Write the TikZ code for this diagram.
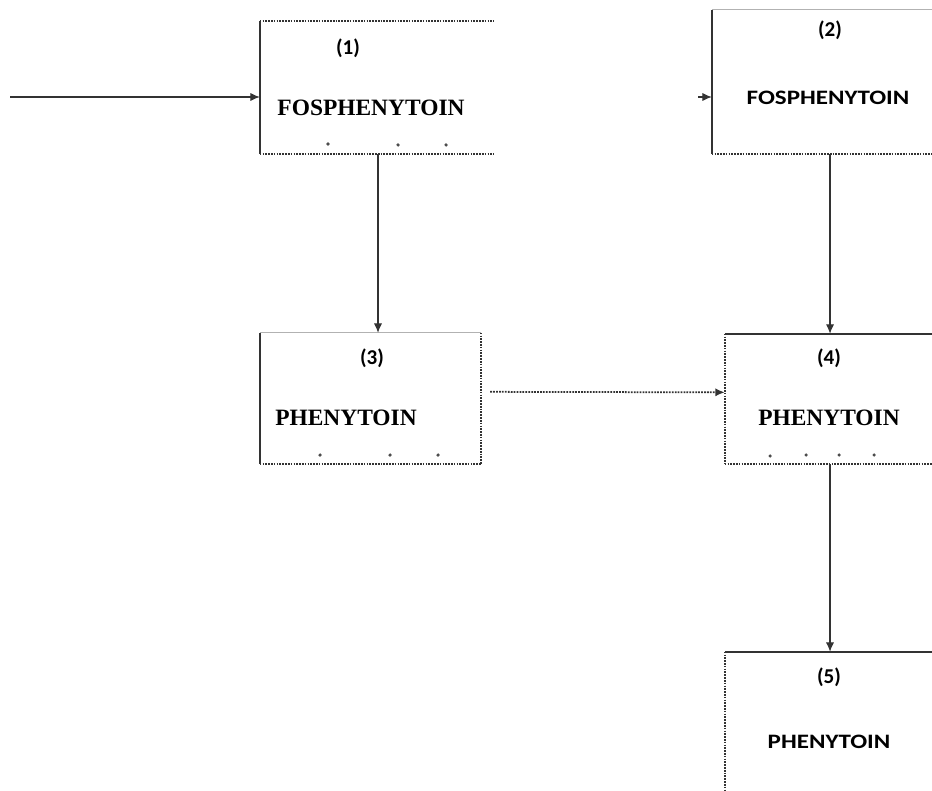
\documentclass[tikz,border=0pt]{standalone}
\usepackage{xcolor}
\usepackage{fontspec}
\setmainfont{Liberation Serif}
\newfontfamily\calibfont{Carlito}
\newfontfamily\widecalibfont[FakeStretch=1.22]{Carlito}
\usetikzlibrary{positioning,arrows.meta}
\tikzset{c-box/.style={rectangle, inner sep=0pt, minimum width=7cm, minimum height=4cm},
num-label/.style={font=\calibfont\fontsize{18}{20}\selectfont\bfseries},
serif-name/.style={font=\fontsize{20}{22}\selectfont\bfseries},
sans-name/.style={font=\widecalibfont\fontsize{17.5}{19}\selectfont\bfseries},
edge-solid/.style={line width=1.5pt, draw=c_edge},
edge-light/.style={line width=0.8pt, draw=c_light},
edge-dotted/.style={line width=1.4pt, densely dotted, draw=c_edge},
arrow/.style={line width=1pt, draw=c_edge, -{Latex[length=8pt,width=7pt]}},
dot-arrow/.style={line width=1.5pt, densely dotted, draw=c_edge, -{Latex[length=8pt,width=7pt]}},
speck/.style={circle, fill=c_dots, inner sep=0pt, minimum size=3pt}}
\definecolor{c_edge}{rgb}{0.2, 0.2, 0.2}
\definecolor{c_light}{rgb}{0.7, 0.7, 0.7}
\definecolor{c_dots}{rgb}{0.3, 0.3, 0.3}

\begin{document}
\begin{tikzpicture}[x=0.03cm, y=-0.03cm]
\useasboundingbox (0,0) rectangle (932,791);
% boxes
\node (b1) [c-box, minimum width=7.02cm, minimum height=3.99cm] at (377,87.5) {};
\node (b2) [c-box, minimum width=7.14cm, minimum height=4.32cm] at (831,82) {};
\node (b3) [c-box, minimum width=6.63cm, minimum height=3.93cm] at (370.5,398.5) {};
\node (b4) [c-box, minimum width=6.3cm, minimum height=3.9cm] at (830,399) {};
\node (b5) [c-box, minimum width=6.3cm, minimum height=4.5cm] at (830,727) {};
\draw [edge-solid] (b1.north west) -- (b1.south west);
\draw [edge-dotted] (b1.north west) -- (b1.north east);
\draw [edge-dotted] (b1.south west) -- (b1.south east);
\draw [edge-solid] (b2.north west) -- (b2.south west);
\draw [edge-light] (b2.north west) -- (b2.north east);
\draw [edge-dotted] (b2.south west) -- (b2.south east);
\draw [edge-solid] (b3.north west) -- (b3.south west);
\draw [edge-light] (b3.north west) -- (b3.north east);
\draw [edge-dotted] (b3.north east) -- (b3.south east);
\draw [edge-dotted] (b3.south west) -- (b3.south east);
\draw [edge-solid] (b4.north west) -- (b4.north east);
\draw [edge-dotted] (b4.north west) -- (b4.south west);
\draw [edge-dotted] (b4.south west) -- (b4.south east);
\draw [edge-solid] (b5.north west) -- (b5.north east);
\draw [edge-dotted] (b5.north west) -- (b5.south west);
% texts
\node (n1) [num-label] at (348,48) {(1)};
\node (t1) [serif-name] at (371,108) {FOSPHENYTOIN};
\node (n2) [num-label] at (830,30) {(2)};
\node (t2) [sans-name] at (828,98) {FOSPHENYTOIN};
\node (n3) [num-label] at (372,358) {(3)};
\node (t3) [serif-name] at (346,418) {PHENYTOIN};
\node (n4) [num-label] at (829,358) {(4)};
\node (t4) [serif-name] at (829,418) {PHENYTOIN};
\node (n5) [num-label] at (829,677) {(5)};
\node (t5) [sans-name] at (829,742) {PHENYTOIN};
% specks
\foreach \px/\py in {328/144, 398/145, 446/145, 320/455, 390/455, 438/455, 770/456, 806/455, 839/455, 874/455}
  \node [speck] at (\px,\py) {};
% connectors
\coordinate (src) at (10,97);
\coordinate (stub) at (698,97);
\draw [arrow] (src) -- (src -| b1.west);
\draw [arrow] (stub) -- (stub -| b2.west);
\draw [arrow] (b1.south -| 378,0) -- (b3.north -| 378,0);
\draw [dot-arrow] ([xshift=0.27cm, yshift=0.2cm]b3.east) -- ([yshift=0.2cm]b4.west);
\draw [arrow] (b4.north |- b2.south) -- (b4.north);
\draw [arrow] (b4.south) -- (b5.north);
\end{tikzpicture}
\end{document}
